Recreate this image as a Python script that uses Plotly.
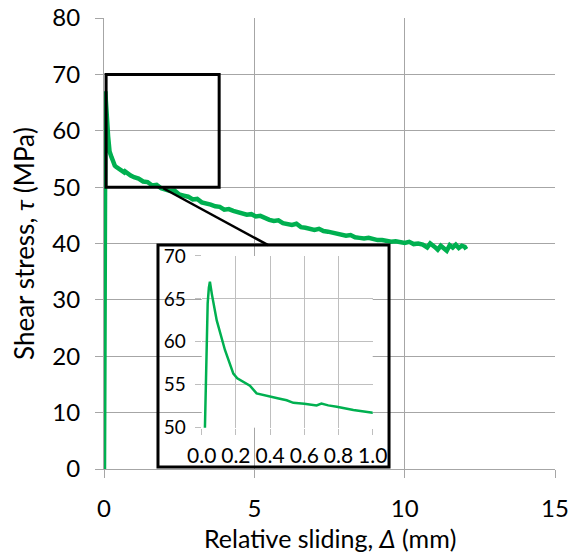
import plotly.graph_objects as go

# Relative sliding (mm) and shear stress (MPa) of the push-out test
slip = [0.000, 0.005, 0.012, 0.019, 0.024, 0.029, 0.035, 0.042, 0.048,
        0.060, 0.088, 0.136, 0.185, 0.208, 0.250, 0.282, 0.321, 0.360, 0.400,
        0.450, 0.497, 0.536, 0.600, 0.672, 0.700, 0.740, 0.790, 0.887, 1.000,
        1.15, 1.30, 1.45, 1.60, 1.75, 1.90, 2.05, 2.20, 2.35, 2.50, 2.65, 2.80,
        2.95, 3.10, 3.25, 3.40, 3.55, 3.70, 3.85, 4.00, 4.15, 4.30, 4.45, 4.60,
        4.75, 4.90, 5.05, 5.20, 5.35, 5.50, 5.65, 5.80, 5.95, 6.10, 6.25, 6.40,
        6.55, 6.70, 6.85, 7.00, 7.15, 7.30, 7.45, 7.60, 7.75, 7.90, 8.05, 8.20,
        8.35, 8.50, 8.65, 8.80, 8.95, 9.10, 9.25, 9.40, 9.55, 9.70, 9.85, 10.00,
        10.15, 10.30, 10.45, 10.60, 10.75, 10.85, 11.00, 11.10, 11.20, 11.30,
        11.40, 11.50, 11.60, 11.70, 11.80, 11.90, 12.00, 12.05]
stress = [0.0, 20.0, 40.0, 50.0, 56.0, 61.4, 64.5, 66.3, 67.0,
          65.5, 62.5, 59.05, 56.3, 55.75, 55.3, 54.9, 54.0, 53.8, 53.6,
          53.4, 53.2, 52.9, 52.8, 52.6, 52.8, 52.6, 52.45, 52.06, 51.75,
          51.5, 51.0, 50.9, 50.3, 50.4, 49.8, 49.6, 49.3, 49.4, 48.7, 48.5, 48.3,
          47.8, 47.9, 47.3, 47.2, 46.9, 46.6, 46.5, 46.0, 46.1, 45.8, 45.6, 45.4,
          45.1, 45.2, 44.8, 44.9, 44.5, 44.2, 44.0, 44.1, 43.6, 43.4, 43.3, 43.5,
          42.9, 42.8, 42.6, 42.4, 42.6, 42.2, 42.1, 41.9, 41.7, 41.6, 41.4, 41.5,
          41.1, 41.0, 40.9, 41.0, 40.7, 40.6, 40.6, 40.4, 40.3, 40.4, 40.2, 40.1,
          40.3, 39.9, 40.0, 39.8, 39.3, 40.0, 39.4, 38.9, 39.6, 39.2,
          38.7, 39.7, 39.3, 39.8, 39.2, 39.6, 39.4, 39.0]

main_xticks = [0, 5, 10, 15]
main_yticks = [0, 10, 20, 30, 40, 50, 60, 70, 80]
inset_xticks = [0.0, 0.2, 0.4, 0.6, 0.8, 1.0]
inset_yticks = [50, 55, 60, 65, 70]

GREEN = "#00b050"
GRID = "#a6a6a6"
INSET_GRID = "#bfbfbf"
FONT = "Lato"

fig = go.Figure()

# main curve
fig.add_trace(go.Scatter(x=slip, y=stress, mode="lines",
                         line=dict(color=GREEN, width=4.5),
                         xaxis="x", yaxis="y", showlegend=False, hoverinfo="skip"))
# zoomed view of the peak region (same data, clipped to the inset ranges)
fig.add_trace(go.Scatter(x=slip, y=stress, mode="lines",
                         line=dict(color=GREEN, width=2.5),
                         xaxis="x3", yaxis="y3", showlegend=False, hoverinfo="skip"))

# blank white panel that holds the inset
box_x = [0.1197, 0.632]
box_y = [0.0044, 0.4967]

axis_common = dict(showgrid=True, gridcolor=GRID, gridwidth=1, zeroline=False,
                   ticks="outside", tickcolor=GRID, tickwidth=1, automargin=False)
inset_common = {**axis_common, "gridcolor": INSET_GRID, "tickcolor": INSET_GRID}

fig.update_layout(
    width=571, height=554,
    margin=dict(l=104, r=16, t=18, b=85),
    paper_bgcolor="white", plot_bgcolor="white",
    font=dict(family=FONT, color="black"),
    xaxis=dict(range=[0, 15], tickvals=main_xticks, ticklen=8,
               showline=True, linecolor=GRID, linewidth=1,
               tickfont=dict(size=24), ticklabelstandoff=10, **axis_common),
    yaxis=dict(range=[0, 80], tickvals=main_yticks, ticklen=8,
               showline=True, linecolor=GRID, linewidth=1,
               tickfont=dict(size=24), ticklabelstandoff=10,
               title=dict(text="Shear stress, <i>τ</i> (MPa)", font=dict(size=26), standoff=10),
               **axis_common),
    xaxis2=dict(domain=box_x, anchor="y2", range=[0, 1], showgrid=False, zeroline=False,
                showticklabels=False, ticks="", fixedrange=True),
    yaxis2=dict(domain=box_y, anchor="x2", range=[0, 1], showgrid=False, zeroline=False,
                showticklabels=False, ticks="", fixedrange=True),
    xaxis3=dict(domain=[0.2166, 0.5958], anchor="y3", range=[0, 1.0],
                tickvals=inset_xticks, tickformat=".1f", ticklen=6,
                tickfont=dict(size=21), ticklabelstandoff=3, **inset_common),
    yaxis3=dict(domain=[0.0916, 0.4723], anchor="x3", range=[50, 70],
                tickvals=inset_yticks, ticklen=6,
                tickfont=dict(size=19), ticklabelstandoff=5, **inset_common),
    annotations=[
        dict(text="Relative sliding, <i>Δ</i> (mm)", xref="paper", yref="paper",
             x=0.5, y=-0.152, xanchor="center", yanchor="middle", showarrow=False,
             font=dict(size=25)),
    ],
    shapes=[
        # zoom window on the main curve
        dict(type="rect", xref="x", yref="y", x0=0.07, x1=3.83, y0=50, y1=70,
             line=dict(color="black", width=3), fillcolor="rgba(0,0,0,0)", layer="above"),
        # leader line from window to inset
        dict(type="line", xref="x", yref="y", x0=1.97, y0=49.8, x1=5.46, y1=39.7,
             line=dict(color="black", width=2.5), layer="above"),
        # inset frame
        dict(type="rect", xref="paper", yref="paper", x0=box_x[0], x1=box_x[1],
             y0=box_y[0], y1=box_y[1],
             line=dict(color="black", width=3), fillcolor="rgba(0,0,0,0)", layer="above"),
    ],
)

fig.write_html("out.html")
